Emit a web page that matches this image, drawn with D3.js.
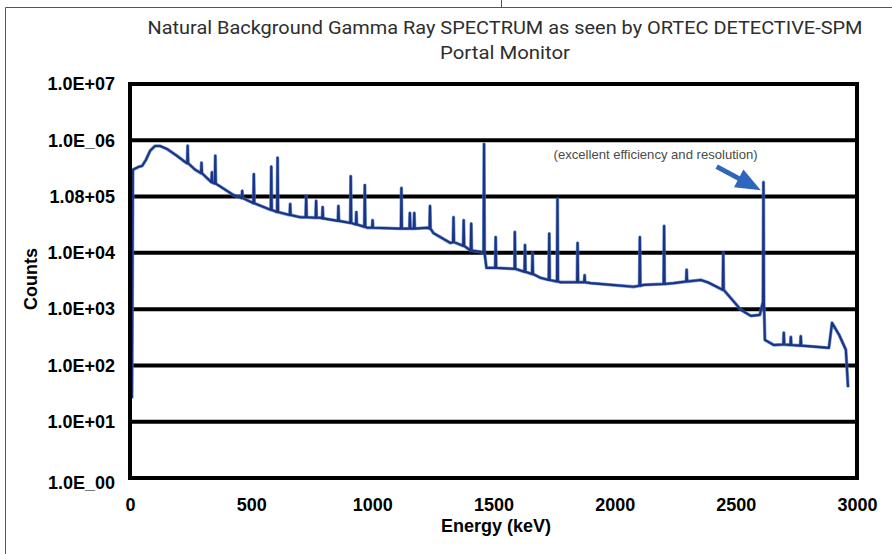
<!DOCTYPE html>
<html>
<head>
<meta charset="utf-8">
<script src="https://cdn.jsdelivr.net/npm/d3@7"></script>
<style>
  body { margin: 0; background: #fff; }
  svg { display: block; }
</style>
</head>
<body>
<svg width="892" height="554"></svg>
<script>
// spectrum continuum (energy keV / counts)
const continuumKeV = [8, 12, 37, 50, 66, 83, 103, 124, 153, 194, 231, 269, 293, 343, 426, 508, 607, 702, 785, 909, 979, 1116, 1227, 1252, 1322, 1446, 1471, 1587, 1694, 1777, 1901, 2078, 2120, 2244, 2355, 2384, 2450, 2521, 2562, 2599, 2611, 2620, 2657, 2797, 2884, 2897, 2926, 2954, 2963];
const continuumCounts = [26, 3.0e5, 3.4e5, 3.5e5, 4.5e5, 6.5e5, 7.9e5, 7.9e5, 7.0e5, 5.3e5, 4.0e5, 3.0e5, 2.6e5, 1.75e5, 1.07e5, 7.7e4, 5.3e4, 4.3e4, 4.2e4, 3.4e4, 2.8e4, 2.7e4, 2.8e4, 2.25e4, 1.5e4, 1.04e4, 5.4e3, 5.4e3, 3.6e3, 3.0e3, 2.9e3, 2.5e3, 2.7e3, 2.9e3, 3.3e3, 3.0e3, 2.2e3, 970, 760, 790, 1.3e3, 284, 230, 220, 205, 570, 350, 190, 41];

// photo peaks: energy, top counts, counts at the foot of the peak
const peakKeV = [238, 295, 338, 352, 463, 511, 583, 609, 661, 727, 768, 795, 860, 911, 934, 969, 1001, 1120, 1155, 1173, 1238, 1335, 1377, 1408, 1461, 1509, 1588, 1630, 1661, 1730, 1764, 1847, 1876, 2104, 2204, 2297, 2448, 2614, 2698, 2727, 2768];
const peakCounts = [8.0e5, 4.0e5, 2.7e5, 5.3e5, 1.26e5, 2.5e5, 3.4e5, 4.9e5, 7.4e4, 1.03e5, 8.4e4, 6.5e4, 6.8e4, 2.3e5, 5.3e4, 1.6e5, 3.8e4, 1.42e5, 5.1e4, 5.1e4, 6.8e4, 4.3e4, 3.8e4, 3.3e4, 8.6e5, 1.9e4, 2.35e4, 1.38e4, 1.0e4, 2.2e4, 9.1e4, 1.5e4, 4.0e3, 1.9e4, 3.0e4, 5.0e3, 1.0e4, 1.8e5, 380, 320, 330];
const peakBase = [3.9e5, 2.6e5, 1.8e5, 1.7e5, 9.4e4, 7.6e4, 5.8e4, 5.3e4, 4.7e4, 4.3e4, 4.2e4, 4.1e4, 3.7e4, 3.4e4, 3.2e4, 2.9e4, 2.8e4, 2.7e4, 2.7e4, 2.7e4, 2.7e4, 1.55e4, 1.33e4, 1.1e4, 1.0e4, 5.4e3, 5.2e3, 4.6e3, 4.2e3, 3.3e3, 3.1e3, 3.0e3, 3.0e3, 2.6e3, 2.8e3, 3.1e3, 2.2e3, 1.3e3, 235, 230, 225];

const yTicks = [1, 10, 100, 1e3, 1e4, 1e5, 1e6, 1e7];
const yTickLabels = ['1.0E_00', '1.0E+01', '1.0E+02', '1.0E+03', '1.0E+04', '1.08+05', '1.0E_06', '1.0E+07'];
const xTicks = [0, 500, 1000, 1500, 2000, 2500, 3000];

const titleLines = ['Natural Background Gamma Ray SPECTRUM as seen by ORTEC DETECTIVE-SPM', 'Portal Monitor'];
const note = { text: '(excellent efficiency and resolution)', keV: 2169, counts: 4.7e5 };
const arrowFrom = { keV: 2421, counts: 3.4e5 };
const arrowTo = { keV: 2603, counts: 1.3e5 };

const svg = d3.select('svg');
const plotL = 130, plotR = 857, plotT = 84, plotB = 478;

const x = d3.scaleLinear().domain([0, 3000]).range([plotL, plotR]);
const y = d3.scaleLog().domain([1, 1e7]).range([plotB, plotT]);

// build the spectrum points
let spectrum = continuumKeV.map((e, i) => [e, continuumCounts[i]]);
peakKeV.forEach((e, i) => {
  spectrum.push([e - 2, peakBase[i]], [e, peakCounts[i]], [e + 2, peakBase[i]]);
});
spectrum.sort((a, b) => a[0] - b[0]);

// outer page lines
svg.append('path')
  .attr('d', 'M5.5,554V7.5H892M501.5,0V7.5')
  .attr('fill', 'none').attr('stroke', '#555').attr('stroke-width', 1);

// title
svg.selectAll('text.title').data(titleLines).enter()
  .append('text')
  .attr('class', 'title')
  .attr('x', 505)
  .attr('y', (d, i) => 34 + i * 25)
  .attr('text-anchor', 'middle')
  .attr('font-family', 'Roboto, sans-serif')
  .attr('font-size', 19)
  .attr('fill', '#2e2e2e')
  .attr('textLength', (d, i) => i === 0 ? 715 : 130)
  .attr('lengthAdjust', 'spacingAndGlyphs')
  .text(d => d);

// grid lines
svg.append('g').selectAll('line').data(yTicks.slice(1, -1)).enter()
  .append('line')
  .attr('x1', plotL).attr('x2', plotR)
  .attr('y1', d => y(d)).attr('y2', d => y(d))
  .attr('stroke', '#000').attr('stroke-width', 4);

// spectrum
const line = d3.line().x(d => x(d[0])).y(d => y(d[1]));
svg.append('path').datum(spectrum)
  .attr('d', line)
  .attr('fill', 'none')
  .attr('stroke', '#4a7cc9')
  .attr('stroke-width', 3.4)
  .attr('stroke-linejoin', 'round')
  .attr('opacity', 0.75);
svg.append('path').datum(spectrum)
  .attr('d', line)
  .attr('fill', 'none')
  .attr('stroke', '#1b3380')
  .attr('stroke-width', 2.1)
  .attr('stroke-linejoin', 'round');

// plot frame
svg.append('rect')
  .attr('x', plotL).attr('y', plotT)
  .attr('width', plotR - plotL).attr('height', plotB - plotT)
  .attr('fill', 'none').attr('stroke', '#000').attr('stroke-width', 4);

// axes
const yAxis = svg.append('g')
  .attr('transform', `translate(${plotL},0)`)
  .call(d3.axisLeft(y).tickValues(yTicks).tickSize(0).tickPadding(15)
    .tickFormat((d, i) => yTickLabels[i]));
const xAxis = svg.append('g')
  .attr('transform', `translate(0,${plotB})`)
  .call(d3.axisBottom(x).tickValues(xTicks).tickSize(0).tickPadding(20)
    .tickFormat(d3.format('d')));

[yAxis, xAxis].forEach(g => {
  g.select('.domain').remove();
  g.selectAll('text')
    .attr('font-family', 'Liberation Sans, Arial, sans-serif')
    .attr('font-size', 18)
    .attr('font-weight', 'bold')
    .attr('fill', '#000');
});
// bottom label sits a little lower in the original
yAxis.selectAll('.tick').filter(d => d === 1).select('text').attr('y', 5);

// axis titles
svg.append('text')
  .attr('x', 496).attr('y', 532)
  .attr('text-anchor', 'middle')
  .attr('font-family', 'Liberation Sans, Arial, sans-serif')
  .attr('font-size', 18).attr('font-weight', 'bold')
  .text('Energy (keV)');
svg.append('text')
  .attr('transform', 'translate(37,279) rotate(-90)')
  .attr('text-anchor', 'middle')
  .attr('font-family', 'Liberation Sans, Arial, sans-serif')
  .attr('font-size', 18).attr('font-weight', 'bold')
  .text('Counts');

// annotation
svg.append('text')
  .attr('x', x(note.keV)).attr('y', y(note.counts))
  .attr('text-anchor', 'middle')
  .attr('font-family', 'Liberation Sans Narrow, Liberation Sans, Arial, sans-serif')
  .attr('font-size', 13)
  .attr('fill', '#4a4a4a')
  .attr('textLength', 204)
  .attr('lengthAdjust', 'spacingAndGlyphs')
  .text(note.text);

const ax0 = x(arrowFrom.keV), ay0 = y(arrowFrom.counts);
const ax1 = x(arrowTo.keV), ay1 = y(arrowTo.counts);
const len = Math.hypot(ax1 - ax0, ay1 - ay0);
const ux = (ax1 - ax0) / len, uy = (ay1 - ay0) / len;
const headLen = 25, headHalf = 10;
const bx = ax1 - ux * headLen, by = ay1 - uy * headLen;
svg.append('line')
  .attr('x1', ax0).attr('y1', ay0).attr('x2', bx + ux * 2).attr('y2', by + uy * 2)
  .attr('stroke', '#2f66bd').attr('stroke-width', 5);
svg.append('path')
  .attr('d', `M${ax1},${ay1}L${bx - uy * headHalf},${by + ux * headHalf}L${bx + uy * headHalf},${by - ux * headHalf}Z`)
  .attr('fill', '#2f66bd');
</script>
</body>
</html>
